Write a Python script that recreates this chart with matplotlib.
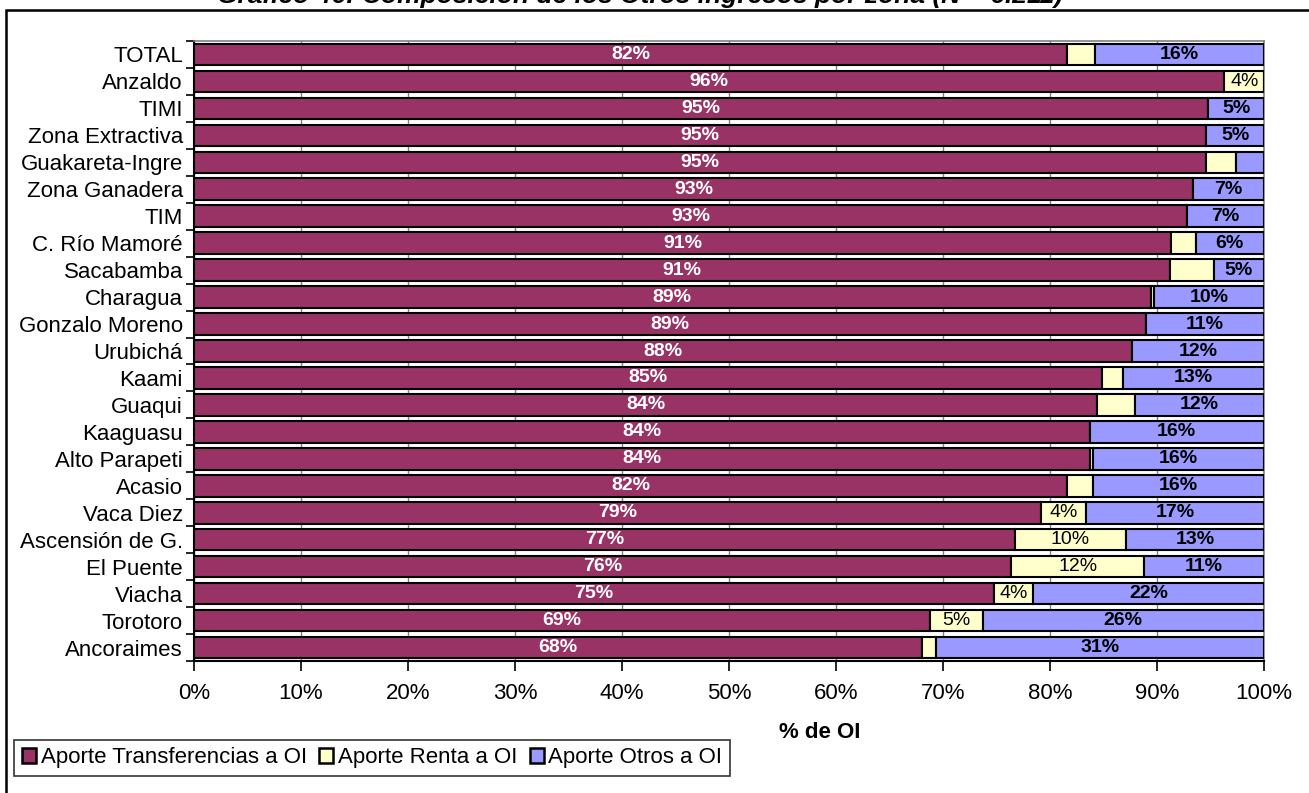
"""Composición de los Otros ingresos por zona: barras horizontales apiladas al 100%."""
import matplotlib
matplotlib.use("Agg")
import matplotlib.pyplot as plt
from matplotlib.patches import Patch, Rectangle

matplotlib.rcParams["font.family"] = ["Liberation Sans", "DejaVu Sans"]

ZONAS = ["TOTAL", "Anzaldo", "TIMI", "Zona Extractiva", "Guakareta-Ingre",
         "Zona Ganadera", "TIM", "C. Río Mamoré", "Sacabamba", "Charagua",
         "Gonzalo Moreno", "Urubichá", "Kaami", "Guaqui", "Kaaguasu",
         "Alto Parapeti", "Acasio", "Vaca Diez", "Ascensión de G.", "El Puente",
         "Viacha", "Torotoro", "Ancoraimes"]

# % de OI por componente
transferencias = [81.6, 96.3, 94.8, 94.6, 94.6, 93.4, 92.8, 91.3, 91.2, 89.4,
                  89.0, 87.7, 84.9, 84.4, 83.7, 83.7, 81.6, 79.2, 76.7, 76.4,
                  74.8, 68.8, 68.0]
renta = [2.6, 3.7, 0.0, 0.0, 2.8, 0.0, 0.0, 2.3, 4.1, 0.3,
         0.0, 0.0, 1.9, 3.5, 0.0, 0.3, 2.4, 4.2, 10.4, 12.4,
         3.6, 4.9, 1.3]
otros = [15.8, 0.0, 5.2, 5.4, 2.6, 6.6, 7.2, 6.4, 4.7, 10.3,
         11.0, 12.3, 13.2, 12.1, 16.3, 16.0, 16.0, 16.6, 12.9, 11.2,
         21.6, 26.3, 30.7]
# etiquetas de renta visibles
renta_etiqueta = [False, True, False, False, False, False, False, False, False, False,
                  False, False, False, False, False, False, False, True, True, True,
                  True, True, False]

TITULO = "Gráfico 46: Composición de los Otros ingresos por zona (N = 6.211)"
C_TRANSF = "#993366"
C_RENTA = "#FFFFCC"
C_OTROS = "#9999FF"

W, H = 1309, 793
fig = plt.figure(figsize=(W / 100, H / 100), dpi=100)
ax = fig.add_axes([194 / W, 1 - 661 / H, 1070 / W, 620 / H])

y = list(range(len(ZONAS)))
izq_otros = [t + r for t, r in zip(transferencias, renta)]
kw = dict(height=0.8, edgecolor="black", linewidth=1.5, zorder=3)
ax.barh(y, transferencias, color=C_TRANSF, **kw)
ax.barh(y, renta, left=transferencias, color=C_RENTA, **kw)
ax.barh(y, otros, left=izq_otros, color=C_OTROS, **kw)

for i in y:
    t, r, o = transferencias[i], renta[i], otros[i]
    ax.text(t / 2, i, f"{t:.0f}%", ha="center", va="center", color="white",
            fontsize=14, fontweight="bold", zorder=4)
    if renta_etiqueta[i]:
        ax.text(t + r / 2, i, f"{r:.0f}%", ha="center", va="center",
                color="black", fontsize=14, zorder=4)
    if o > 3:
        ax.text(t + r + o / 2, i, f"{o:.0f}%", ha="center", va="center",
                color="black", fontsize=14, fontweight="bold", zorder=4)

ax.set_xlim(0, 100)
ax.set_ylim(len(ZONAS) - 0.5, -0.5)
ax.set_xticks(range(0, 101, 10))
ax.set_xticklabels([f"{v}%" for v in range(0, 101, 10)], fontsize=16)
ax.set_yticks(y)
ax.set_yticklabels(ZONAS, fontsize=16)
ax.set_yticks([k - 0.5 for k in range(len(ZONAS) + 1)], minor=True)
ax.tick_params(axis="y", which="major", length=0, pad=8)
ax.tick_params(axis="y", which="minor", length=6, width=1.2, color="black")
ax.tick_params(axis="x", length=7, width=1.2, color="black", pad=9)
ax.xaxis.grid(True, color="#808080", linewidth=1, zorder=0)
ax.set_axisbelow(True)

for lado in ("left", "bottom"):
    ax.spines[lado].set_color("black")
    ax.spines[lado].set_linewidth(1.5)
for lado in ("top", "right"):
    ax.spines[lado].set_color("#808080")
    ax.spines[lado].set_linewidth(1.2)

fig.text(820 / W, 1 - 733 / H, "% de OI", ha="center", va="center",
         fontsize=16, fontweight="bold")

handles = [Patch(facecolor=C_TRANSF, edgecolor="black", linewidth=1.8),
           Patch(facecolor=C_RENTA, edgecolor="black", linewidth=1.8),
           Patch(facecolor=C_OTROS, edgecolor="black", linewidth=1.8)]
leg = fig.legend(handles, ["Aporte Transferencias a OI", "Aporte Renta a OI",
                           "Aporte Otros a OI"],
                 loc="center left", bbox_to_anchor=(14 / W, 1 - 758 / H), ncol=3,
                 fontsize=16, frameon=True, fancybox=False, shadow=False,
                 handlelength=0.65, handleheight=0.65, handletextpad=0.2,
                 columnspacing=0.55, borderpad=0.35, borderaxespad=0)
leg.get_frame().set_edgecolor("black")
leg.get_frame().set_linewidth(1.2)

# marco del gráfico (recortado por el borde de la imagen)
fig.patches.append(Rectangle((6 / W, -0.1), 1.2, 1 - 10 / H + 0.1,
                             transform=fig.transFigure, fill=False,
                             edgecolor="black", linewidth=1.8, zorder=0))
fig.text(640 / W, 1 - 3.5 / H, TITULO, ha="center", va="baseline",
         fontsize=19, fontweight="bold", fontstyle="italic")

fig.savefig("out.png", dpi=100)
